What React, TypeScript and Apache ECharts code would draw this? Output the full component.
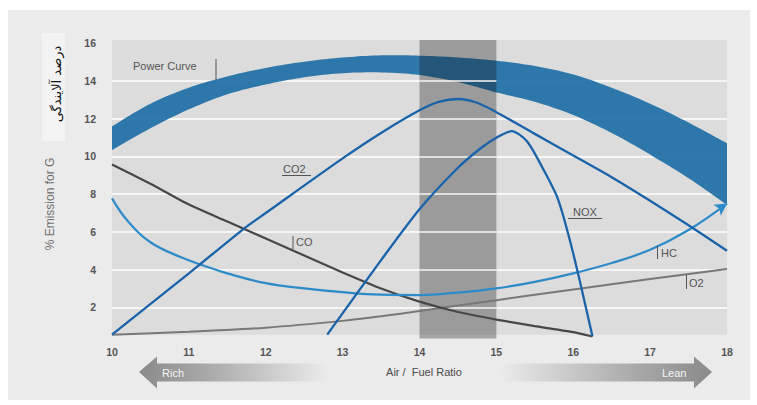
import React, { useEffect, useRef } from 'react';
import * as echarts from 'echarts';

// ---- axes ----
const X_MIN = 10;
const X_MAX = 18;
const Y_TOP = 16.18;
const PLOT_BOTTOM = 0.55;
const GRID_LINES = [2, 4, 6, 8, 10, 12, 14];
const STOICH_BAND = [14, 15];

// ---- power curve band ----
const powerX = [10, 10.5, 11, 11.5, 12, 12.5, 13, 13.5, 14, 14.5, 15, 15.5, 16, 16.5, 17, 17.5, 18];
const powerUpper = [11.6, 12.8, 13.65, 14.25, 14.7, 15.03, 15.25, 15.37, 15.35, 15.25, 15.08, 14.8, 14.35, 13.65, 12.8, 11.8, 10.7];
const powerLower = [10.34, 11.5, 12.5, 13.3, 13.82, 14.2, 14.42, 14.46, 14.32, 13.95, 13.4, 12.9, 12.2, 11.25, 10.1, 8.85, 7.43];

// ---- emissions ----
const co2X = [10, 11, 11.71, 12, 13, 13.5, 14, 14.25, 14.5, 14.75, 15, 15.5, 16, 16.5, 17, 17.5, 18];
const co2Y = [0.55, 3.8, 6.15, 7.0, 9.9, 11.25, 12.45, 12.9, 13.05, 12.85, 12.35, 11.2, 10.05, 8.9, 7.65, 6.35, 5.0];

const noxX = [12.8, 13.5, 14, 14.5, 14.8, 15, 15.2, 15.4, 15.6, 15.8, 16, 16.25];
const noxY = [0.55, 4.5, 7.2, 9.4, 10.45, 11.0, 11.35, 10.8, 9.4, 7.75, 4.85, 0.45];

const hcX = [10, 10.2, 10.5, 10.9, 11.2, 11.5, 12, 12.5, 13, 13.5, 14, 14.5, 15, 15.5, 16, 16.5, 17, 17.5, 18];
const hcY = [7.78, 6.6, 5.45, 4.65, 4.2, 3.8, 3.28, 3.0, 2.8, 2.67, 2.65, 2.78, 3.0, 3.35, 3.8, 4.35, 5.05, 6.1, 7.5];

const coX = [10, 10.5, 11, 11.5, 12, 12.5, 13, 13.5, 14, 14.5, 15, 15.5, 16, 16.25];
const coY = [9.58, 8.55, 7.45, 6.55, 5.65, 4.75, 3.85, 3.0, 2.3, 1.75, 1.35, 1.0, 0.68, 0.45];

const o2X = [10, 11, 12, 13, 13.5, 14, 15, 16, 17, 18];
const o2Y = [0.55, 0.7, 0.92, 1.28, 1.52, 1.8, 2.38, 2.95, 3.5, 4.03];

const zip = (xs: number[], ys: number[]) => xs.map((x, i) => [x, ys[i]]);

const FONT = '"Liberation Sans", Arial, sans-serif';
const LABEL = '#555';

// Catmull-Rom smoothing of already-projected pixel points (drawing only)
function smoothPath(pts: number[][], steps = 10): number[][] {
  const out: number[][] = [];
  const n = pts.length;
  for (let i = 0; i < n - 1; i++) {
    const p0 = pts[Math.max(0, i - 1)];
    const p1 = pts[i];
    const p2 = pts[i + 1];
    const p3 = pts[Math.min(n - 1, i + 2)];
    for (let s = 0; s < steps; s++) {
      const t = s / steps;
      const t2 = t * t;
      const t3 = t2 * t;
      const f = (a: number, b: number, c: number, d: number) =>
        0.5 * (2 * b + (-a + c) * t + (2 * a - 5 * b + 4 * c - d) * t2 + (-a + 3 * b - 3 * c + d) * t3);
      out.push([f(p0[0], p1[0], p2[0], p3[0]), f(p0[1], p1[1], p2[1], p3[1])]);
    }
  }
  out.push(pts[n - 1]);
  return out;
}

export default function App() {
  const ref = useRef<HTMLDivElement>(null);

  useEffect(() => {
    if (!ref.current) return;
    const chart = echarts.init(ref.current, undefined, { renderer: 'svg' });

    const hcData: any[] = zip(hcX, hcY);
    const last = hcData.length - 1;
    hcData[last] = {
      value: hcData[last],
      symbol: 'arrow',
      symbolSize: [10, 12],
      symbolRotate: -56,
      itemStyle: { color: '#2e8bc7' },
    };

    const curve = (name: string, data: any[], color: string, width: number, smooth: number) => ({
      type: 'line',
      name,
      data,
      smooth,
      symbol: 'none',
      z: 6,
      silent: true,
      lineStyle: { color, width },
      itemStyle: { color },
    });

    const tick = (x: number, y1: number, y2: number) => ({
      type: 'line',
      shape: { x1: x, y1, x2: x, y2 },
      style: { stroke: '#555', lineWidth: 1 },
      z: 10,
      silent: true,
    });
    const hline = (x1: number, x2: number, y: number) => ({
      type: 'line',
      shape: { x1, y1: y, x2, y2: y },
      style: { stroke: '#555', lineWidth: 1 },
      z: 10,
      silent: true,
    });
    const label = (text: string, x: number, y: number) => ({
      type: 'text',
      x,
      y,
      style: { text, fill: LABEL, font: `11px ${FONT}`, align: 'left', verticalAlign: 'middle' },
      z: 10,
      silent: true,
    });

    const option: any = {
      animation: false,
      backgroundColor: '#ffffff',
      grid: { left: 112, right: 30, top: 40, bottom: 60, containLabel: false },
      xAxis: {
        type: 'value',
        min: X_MIN,
        max: X_MAX,
        interval: 1,
        axisLine: { show: false },
        axisTick: { show: false },
        splitLine: { show: false },
        axisLabel: { color: LABEL, fontWeight: 'bold', fontSize: 10.5, fontFamily: FONT, margin: 1 },
      },
      yAxis: {
        type: 'value',
        min: 0,
        max: Y_TOP,
        interval: 2,
        axisLine: { show: false },
        axisTick: { show: false },
        splitLine: { show: false },
        axisLabel: {
          color: LABEL,
          fontWeight: 'bold',
          fontSize: 10.5,
          fontFamily: FONT,
          margin: 16,
          formatter: (v: number) => (v > 0 && v <= 16 && Math.abs(v % 2) < 1e-9 ? String(v) : ''),
        },
      },
      series: [
        {
          type: 'line',
          name: 'bg',
          data: [[X_MIN, PLOT_BOTTOM]],
          symbol: 'none',
          lineStyle: { opacity: 0 },
          silent: true,
          z: 1,
          markArea: {
            silent: true,
            z: 1,
            itemStyle: { color: '#dcdcdc' },
            data: [[{ xAxis: X_MIN, yAxis: PLOT_BOTTOM }, { xAxis: X_MAX, yAxis: Y_TOP }]],
          },
          markLine: {
            silent: true,
            z: 2,
            symbol: ['none', 'none'],
            label: { show: false },
            lineStyle: { color: '#f6f6f6', width: 2, type: 'solid' },
            data: GRID_LINES.map((v) => ({ yAxis: v })),
          },
        },
        {
          type: 'custom',
          name: 'Power Curve',
          silent: true,
          z: 3,
          data: powerX.map((x, i) => [x, powerLower[i], powerUpper[i]]),
          encode: { x: 0, y: [1, 2] },
          renderItem: (params: any, api: any) => {
            if (params.dataIndexInside !== 0) return null;
            const n = params.dataInsideLength;
            const up: number[][] = [];
            const lo: number[][] = [];
            for (let i = 0; i < n; i++) {
              const x = api.value(0, i);
              up.push(api.coord([x, api.value(2, i)]));
              lo.push(api.coord([x, api.value(1, i)]));
            }
            const points = [...smoothPath(up), ...smoothPath(lo).reverse()];
            return {
              type: 'polygon',
              shape: { points },
              style: { fill: '#1f6fa6', opacity: 0.93 },
            };
          },
        },
        {
          type: 'line',
          name: 'band',
          data: [[STOICH_BAND[0], PLOT_BOTTOM]],
          symbol: 'none',
          lineStyle: { opacity: 0 },
          silent: true,
          z: 4,
          markArea: {
            silent: true,
            z: 4,
            itemStyle: { color: 'rgba(20,20,20,0.32)' },
            data: [[{ xAxis: STOICH_BAND[0], yAxis: 0.35 }, { xAxis: STOICH_BAND[1], yAxis: Y_TOP }]],
          },
          markLine: {
            silent: true,
            z: 5,
            symbol: ['none', 'none'],
            label: { show: false },
            lineStyle: { color: 'rgba(236,236,236,0.8)', width: 2, type: 'solid' },
            data: GRID_LINES.map((v) => [{ coord: [STOICH_BAND[0], v] }, { coord: [STOICH_BAND[1], v] }]),
          },
        },
        curve('O2', zip(o2X, o2Y), '#7b7777', 2, 0.2),
        curve('CO', zip(coX, coY), '#474747', 2.2, 0.2),
        { ...curve('HC', hcData, '#2e8bc7', 2.2, 0.4), symbol: 'none' },
        curve('CO2', zip(co2X, co2Y), '#1b63a9', 2.3, 0.3),
        curve('NOX', zip(noxX, noxY), '#1b63a9', 2.3, 0.25),
      ],
      graphic: [
        { type: 'rect', shape: { x: 8, y: 10, width: 742, height: 390 }, style: { fill: '#ebebeb' }, z: 0, silent: true },
        { type: 'rect', shape: { x: 42, y: 33, width: 23, height: 108 }, style: { fill: '#f3f3f3' }, z: 0, silent: true },
        {
          type: 'text',
          x: 56,
          y: 84,
          rotation: Math.PI / 2,
          style: { text: 'درصد آلایندگی', fill: '#111', font: '13px "DejaVu Sans", sans-serif', align: 'center', verticalAlign: 'middle' },
          z: 10,
          silent: true,
        },
        {
          type: 'text',
          x: 50,
          y: 204,
          rotation: Math.PI / 2,
          style: { text: '% Emission for G', fill: '#707070', font: `12px ${FONT}`, align: 'center', verticalAlign: 'middle' },
          z: 10,
          silent: true,
        },
        label('Power Curve', 133, 66),
        tick(216, 59, 80),
        label('CO2', 283, 169),
        hline(282, 311, 175.5),
        tick(293, 236, 249),
        label('CO', 296, 242),
        label('NOX', 573, 212),
        hline(568, 602, 218.5),
        tick(657.5, 246, 259),
        label('HC', 661, 253),
        tick(686.5, 275, 289),
        label('O2', 689, 283),
        {
          type: 'polygon',
          shape: { points: [[139, 372], [157, 356.5], [157, 363.5], [327, 363.5], [327, 381.5], [157, 381.5], [157, 388.5]] },
          style: {
            fill: new echarts.graphic.LinearGradient(0, 0, 1, 0, [
              { offset: 0, color: '#8a8a8a' },
              { offset: 0.35, color: '#a8a8a8' },
              { offset: 1, color: '#ebebeb' },
            ]),
          },
          z: 10,
          silent: true,
        },
        {
          type: 'text',
          x: 162,
          y: 373,
          style: { text: 'Rich', fill: '#f4f4f4', font: `11px ${FONT}`, align: 'left', verticalAlign: 'middle' },
          z: 11,
          silent: true,
        },
        {
          type: 'polygon',
          shape: { points: [[500, 363.5], [694, 363.5], [694, 356.5], [712, 372], [694, 388.5], [694, 381.5], [500, 381.5]] },
          style: {
            fill: new echarts.graphic.LinearGradient(0, 0, 1, 0, [
              { offset: 0, color: '#ebebeb' },
              { offset: 0.65, color: '#a8a8a8' },
              { offset: 1, color: '#8a8a8a' },
            ]),
          },
          z: 10,
          silent: true,
        },
        {
          type: 'text',
          x: 662,
          y: 373,
          style: { text: 'Lean', fill: '#f4f4f4', font: `11px ${FONT}`, align: 'left', verticalAlign: 'middle' },
          z: 11,
          silent: true,
        },
        {
          type: 'text',
          x: 424,
          y: 372,
          style: { text: 'Air /  Fuel Ratio', fill: '#4a4a4a', font: `11px ${FONT}`, align: 'center', verticalAlign: 'middle' },
          z: 10,
          silent: true,
        },
      ],
    };

    chart.setOption(option);
    return () => chart.dispose();
  }, []);

  return (
    <div
      ref={ref}
      style={{ position: 'fixed', left: 0, top: 0, width: 757, height: 405 }}
    />
  );
}
